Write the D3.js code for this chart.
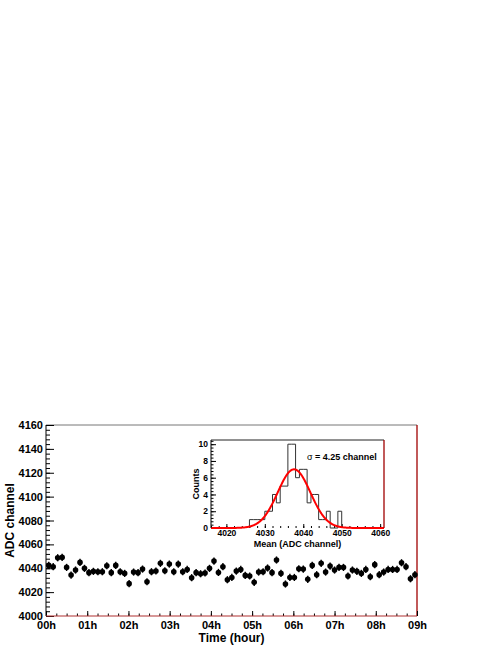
<!DOCTYPE html>
<html>
<head>
<meta charset="utf-8">
<script src="https://cdn.jsdelivr.net/npm/d3@7"></script>
<style>
  body { margin: 0; background: #fff; }
  svg text { font-family: "Liberation Sans", Arial, sans-serif; font-weight: bold; }
</style>
</head>
<body>
<svg id="chart" width="501" height="649"></svg>
<script>
// ADC mean per run, one every 6.5 minutes starting at 00h04
var adcMean = [
  4042.4, 4041.3, 4048.8, 4049.1, 4040.7, 4034.3, 4038.5, 4044.9, 4039.9, 4036.3,
  4037.4, 4037.1, 4037.1, 4042.1, 4036.3, 4042.4, 4037.1, 4035.7, 4027.1, 4036.8,
  4036.3, 4039.3, 4028.7, 4037.1, 4037.7, 4044.1, 4037.9, 4043.5, 4037.1, 4043.5,
  4037.1, 4039.0, 4032.1, 4036.3, 4035.4, 4036.0, 4039.9, 4046.0, 4036.5, 4041.3,
  4030.4, 4032.3, 4037.6, 4039.0, 4034.0, 4033.5, 4028.2, 4036.8, 4037.1, 4040.2,
  4036.3, 4046.9, 4035.7, 4026.8, 4032.3, 4032.3, 4039.6, 4039.3, 4030.7, 4042.4,
  4034.6, 4044.1, 4036.8, 4041.8, 4038.5, 4040.7, 4040.7, 4033.5, 4038.5, 4037.4,
  4035.7, 4039.0, 4032.9, 4043.0, 4034.6, 4036.8, 4039.0, 4039.0, 4039.0, 4044.6,
  4041.3, 4031.2, 4034.6
];
var adcErr = 3;
var startHour = 4 / 60, stepHour = 6.5 / 60;

var hourTicks = [0, 1, 2, 3, 4, 5, 6, 7, 8, 9];
var hourLabels = ["00h", "01h", "02h", "03h", "04h", "05h", "06h", "07h", "08h", "09h"];
var adcTicks = [4000, 4020, 4040, 4060, 4080, 4100, 4120, 4140, 4160];

// histogram of the means (1 channel bins starting at 4026)
var binLow = [4026, 4027, 4028, 4029, 4030, 4031, 4032, 4033, 4034, 4035, 4036, 4037,
              4038, 4039, 4040, 4041, 4042, 4043, 4044, 4045, 4046, 4047, 4048, 4049];
var binCounts = [1, 1, 1, 1, 2, 2, 4, 3, 5, 5, 10, 10, 6, 7, 7, 3, 4, 4, 1, 1, 2, 0, 0, 2];
var fitConst = 7.0, fitMean = 4037.6, fitSigma = 4.25;
var histXTicks = [4020, 4030, 4040, 4050, 4060];
var histYTicks = [0, 2, 4, 6, 8, 10];

var svg = d3.select("#chart");

// main frame
var L = 46, R = 417, T = 425, B = 616;
var x = d3.scaleLinear().domain([0, 9]).range([L, R]);
var y = d3.scaleLinear().domain([4000, 4160]).range([B, T]);

svg.append("line").attr("x1", L).attr("x2", R).attr("y1", T).attr("y2", T)
    .attr("stroke", "#777").attr("stroke-width", 1);
svg.append("line").attr("x1", R).attr("x2", R).attr("y1", T).attr("y2", B)
    .attr("stroke", "#a00000").attr("stroke-width", 1.3);

var yMinor = d3.range(4000, 4161, 4);
svg.append("g").attr("transform", "translate(" + L + ",0)")
    .call(d3.axisLeft(y).tickValues(yMinor).tickSize(-4).tickSizeOuter(0).tickFormat(""))
    .call(g => g.select(".domain").remove());
svg.append("g").attr("transform", "translate(" + L + ",0)")
    .call(d3.axisLeft(y).tickValues(adcTicks).tickSize(-8).tickSizeOuter(0).tickPadding(3).tickFormat(d3.format("d")))
    .call(g => g.select(".domain").remove())
    .call(g => g.selectAll("text").attr("font-size", 11).attr("fill", "#000"));

var xMinor = d3.range(0, 9.01, 0.25);
svg.append("g").attr("transform", "translate(0," + B + ")")
    .call(d3.axisBottom(x).tickValues(xMinor).tickSize(-2.5).tickSizeOuter(0).tickFormat(""))
    .call(g => g.select(".domain").remove());
svg.append("g").attr("transform", "translate(0," + B + ")")
    .call(d3.axisBottom(x).tickValues(hourTicks).tickSize(-5).tickSizeOuter(0).tickPadding(5)
        .tickFormat((d, i) => hourLabels[i]))
    .call(g => g.select(".domain").remove())
    .call(g => g.selectAll("text").attr("font-size", 11).attr("fill", "#000"));
svg.selectAll(".tick line").attr("stroke", "#000");

svg.append("line").attr("x1", L).attr("x2", L).attr("y1", T).attr("y2", B)
    .attr("stroke", "#000").attr("stroke-width", 1);
svg.append("line").attr("x1", L).attr("x2", R).attr("y1", B).attr("y2", B)
    .attr("stroke", "#b03030").attr("stroke-width", 1.2);

svg.append("text").attr("x", (L + R) / 2).attr("y", 642).attr("text-anchor", "middle")
    .attr("font-size", 12).text("Time (hour)");
svg.append("text").attr("transform", "translate(14," + (T + B) / 2 + ") rotate(-90)")
    .attr("text-anchor", "middle").attr("font-size", 12).text("ADC channel");

// data points with error bars
var pts = svg.append("g");
adcMean.forEach(function (v, i) {
    var px = x(startHour + i * stepHour);
    pts.append("line").attr("x1", px).attr("x2", px)
        .attr("y1", y(v - adcErr)).attr("y2", y(v + adcErr))
        .attr("stroke", "#000").attr("stroke-width", 1.4);
    pts.append("circle").attr("cx", px).attr("cy", y(v)).attr("r", 2.8).attr("fill", "#000");
});

// inset histogram
var iL = 211, iR = 384, iT = 440, iB = 528;
var hx = d3.scaleLinear().domain([4016, 4061]).range([iL, iR]);
var hy = d3.scaleLinear().domain([0, 10.5]).range([iB, iT]);

svg.append("rect").attr("x", iL).attr("y", iT).attr("width", iR - iL).attr("height", iB - iT)
    .attr("fill", "#fff");

svg.append("g").attr("transform", "translate(" + iL + ",0)")
    .call(d3.axisLeft(hy).tickValues(d3.range(0, 10.41, 0.4)).tickSize(-2.5).tickSizeOuter(0).tickFormat(""))
    .call(g => g.select(".domain").remove());
svg.append("g").attr("transform", "translate(" + iL + ",0)")
    .call(d3.axisLeft(hy).tickValues(histYTicks).tickSize(-5).tickSizeOuter(0).tickPadding(3))
    .call(g => g.select(".domain").remove())
    .call(g => g.selectAll("text").attr("font-size", 8.5).attr("fill", "#000"));
svg.append("g").attr("transform", "translate(0," + iB + ")")
    .call(d3.axisBottom(hx).tickValues(d3.range(4016, 4061, 2)).tickSize(-2).tickSizeOuter(0).tickFormat(""))
    .call(g => g.select(".domain").remove());
svg.append("g").attr("transform", "translate(0," + iB + ")")
    .call(d3.axisBottom(hx).tickValues(histXTicks).tickSize(-4).tickSizeOuter(0).tickPadding(2).tickFormat(d3.format("d")))
    .call(g => g.select(".domain").remove())
    .call(g => g.selectAll("text").attr("font-size", 8.5).attr("fill", "#000"));
svg.selectAll(".tick line").attr("stroke", "#000");

// histogram outline
var step = [[hx(binLow[0]), hy(0)]];
binLow.forEach(function (lo, i) {
    step.push([hx(lo), hy(binCounts[i])]);
    step.push([hx(lo + 1), hy(binCounts[i])]);
});
step.push([hx(binLow[binLow.length - 1] + 1), hy(0)]);
svg.append("path").attr("d", d3.line()(step))
    .attr("fill", "none").attr("stroke", "#333").attr("stroke-width", 1);

// gaussian fit
var fx = d3.range(4016, 4061.01, 0.1);
svg.append("path")
    .attr("d", d3.line().x(d => hx(d))
        .y(d => hy(fitConst * Math.exp(-0.5 * Math.pow((d - fitMean) / fitSigma, 2))))(fx))
    .attr("fill", "none").attr("stroke", "#ff0000").attr("stroke-width", 2);

svg.append("line").attr("x1", iL).attr("x2", iR).attr("y1", iT).attr("y2", iT)
    .attr("stroke", "#222").attr("stroke-width", 1);
svg.append("line").attr("x1", iR).attr("x2", iR).attr("y1", iT).attr("y2", iB)
    .attr("stroke", "#a00000").attr("stroke-width", 1.3);
svg.append("line").attr("x1", iL).attr("x2", iL).attr("y1", iT).attr("y2", iB)
    .attr("stroke", "#000").attr("stroke-width", 1);

svg.append("text").attr("x", (iL + iR) / 2).attr("y", 547).attr("text-anchor", "middle")
    .attr("font-size", 9).text("Mean (ADC channel)");
svg.append("text").attr("transform", "translate(199," + (iT + iB) / 2 + ") rotate(-90)")
    .attr("text-anchor", "middle").attr("font-size", 9).text("Counts");
var sig = svg.append("text").attr("x", 307).attr("y", 460).attr("font-size", 9);
sig.append("tspan").attr("font-weight", "normal").text("σ");
sig.append("tspan").text(" = " + fitSigma.toFixed(2) + " channel");
</script>
</body>
</html>
